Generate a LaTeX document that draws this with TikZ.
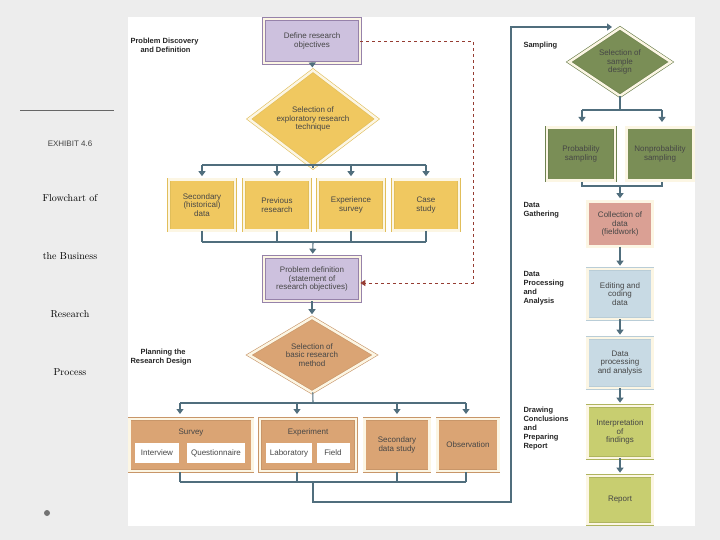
\documentclass[tikz,border=0pt]{standalone}
\usepackage{fontspec}
\newfontfamily\lsans{Liberation Sans}
\usetikzlibrary{shapes.geometric,arrows.meta}
\definecolor{purp}{RGB}{205,193,222}
\definecolor{purpb}{RGB}{150,130,170}
\definecolor{yel}{RGB}{240,200,96}
\definecolor{yelb}{RGB}{225,190,90}
\definecolor{tan}{RGB}{218,164,116}
\definecolor{tanb}{RGB}{200,150,105}
\definecolor{grn}{RGB}{122,142,86}
\definecolor{grnb}{RGB}{110,130,80}
\definecolor{pink}{RGB}{218,160,148}
\definecolor{blu}{RGB}{200,218,228}
\definecolor{blub}{RGB}{185,205,215}
\definecolor{lime}{RGB}{200,206,112}
\definecolor{limeb}{RGB}{175,180,95}
\definecolor{cream}{RGB}{252,246,228}
\definecolor{conncol}{RGB}{80,110,125}
\definecolor{dashred}{RGB}{150,60,50}
\definecolor{txt}{RGB}{70,70,70}
\tikzset{
  box/.style 2 args={draw=#2, double=cream, line width=0.6pt, double distance=2.5pt,
    fill=#1, font=\lsans\fontsize{8}{8.5}\selectfont, text=txt, align=center, inner sep=1pt},
  dia/.style 2 args={diamond, draw=#2, double=cream, line width=0.6pt, double distance=2.5pt,
    fill=#1, font=\lsans\fontsize{8}{8.5}\selectfont, text=txt, align=center, inner sep=0pt},
  sub/.style={fill=white, font=\lsans\fontsize{8}{8.5}\selectfont, text=txt, inner sep=1pt},
  lab/.style={font=\lsans\bfseries\fontsize{7.5}{9}\selectfont, text=black!85, align=left, anchor=north west},
  conn/.style={draw=conncol, line width=1.1pt},
  arr/.style={conn, -{Triangle[width=7pt,length=5pt]}, shorten >=3pt},
}
\begin{document}
\begin{tikzpicture}[x=1pt,y=-1pt]
\useasboundingbox (0,0) rectangle (720,540);
\fill[black!7] (0,0) rectangle (720,540);
\fill[white] (128,17) rectangle (695,526);
% left caption
\draw[black!60, line width=0.6pt] (20,110) -- (114,110);
\node[font=\lsans\fontsize{8}{9}\selectfont, text=black!75] (ex) at (70,144) {EXHIBIT 4.6};
\node[font=\fontsize{10}{12}\selectfont] (c1) at (70,198) {Flowchart of};
\node[font=\fontsize{10}{12}\selectfont] (c2) at (70,256) {the Business};
\node[font=\fontsize{10}{12}\selectfont] (c3) at (70,314) {Research};
\node[font=\fontsize{10}{12}\selectfont] (c4) at (70,372) {Process};
\fill[black!55] (47,513) circle (3);
% stage labels
\node[lab] (l1) at (127,35) {Problem Discovery\\ \hspace*{10pt}and Definition};
\node[lab] (l2) at (127,346) {\hspace*{10pt}Planning the\\Research Design};
\node[lab] (l3) at (520,39) {Sampling};
\node[lab] (l4) at (520,199) {Data\\Gathering};
\node[lab] (l5) at (520,268) {Data\\Processing\\and\\Analysis};
\node[lab] (l6) at (520,404) {Drawing\\Conclusions\\and\\Preparing\\Report};
% problem discovery
\node[box={purp}{purpb}, minimum width=96, minimum height=44] (def) at (312,41) {Define research\\objectives};
\node[dia={yel}{yelb}, minimum width=128, minimum height=62] (exp) at (313,119) {Selection of\\exploratory research\\technique};
\node[box={yel}{yelb}, minimum width=66, minimum height=51] (s1) at (202,205) {Secondary\\(historical)\\data};
\node[box={yel}{yelb}, minimum width=66, minimum height=51] (s2) at (277,205) {Previous\\research};
\node[box={yel}{yelb}, minimum width=66, minimum height=51] (s3) at (351,205) {Experience\\survey};
\node[box={yel}{yelb}, minimum width=66, minimum height=51] (s4) at (426,205) {Case\\study};
\node[box={purp}{purpb}, minimum width=96, minimum height=44] (pd) at (312,279) {Problem definition\\(statement of\\research objectives)};
\coordinate (j1) at (313,165);
\coordinate (j2) at (313,242);
\draw[arr] (def) -- (exp);
\draw[conn] (exp) -- (j1);
\draw[conn] (s1.north |- j1) -- (s4.north |- j1);
\foreach \s in {s1,s2,s3,s4} \draw[arr] (\s.north |- j1) -- (\s);
\foreach \s in {s1,s2,s3,s4} \draw[conn] (\s) -- (\s.south |- j2);
\draw[conn] (s1.south |- j2) -- (s4.south |- j2);
\draw[arr] (j2) -- (pd);
\coordinate (d1) at (473,41);
\coordinate (d2) at (473,283);
\draw[dashred, dashed, line width=0.8pt, -{Triangle[width=6pt,length=5pt]}] (def.east) -- (d1) -- (d2) -- (pd.east |- d2);
% research design
\node[dia={tan}{tanb}, minimum width=126, minimum height=68] (bas) at (312,355) {Selection of\\basic research\\method};
\node[box={tan}{tanb}, minimum width=123, minimum height=52, text depth=28pt, text height=6pt] (sv) at (191,445) {Survey};
\node[box={tan}{tanb}, minimum width=96, minimum height=52, text depth=28pt, text height=6pt] (xp) at (308,445) {Experiment};
\node[box={tan}{tanb}, minimum width=65, minimum height=52] (sd) at (397,445) {Secondary\\data study};
\node[box={tan}{tanb}, minimum width=61, minimum height=52] (ob) at (468,445) {Observation};
\node[sub, minimum width=44, minimum height=20] (iv) at (157,453) {Interview};
\node[sub, minimum width=58, minimum height=20] (qu) at (216,453) {Questionnaire};
\node[sub, minimum width=46, minimum height=20] (lb) at (289,453) {Laboratory};
\node[sub, minimum width=33, minimum height=20] (fd) at (333,453) {Field};
\coordinate (j3) at (313,403);
\coordinate (j4) at (313,482);
\coordinate (r1) at (313,502);
\coordinate (r2) at (511,502);
\coordinate (r3) at (511,27);
\draw[arr] (pd) -- (bas);
\draw[conn] (bas) -- (j3);
\draw[conn] (180,403) -- (466,403);
\foreach \x in {180,297,397,466} \draw[arr] (\x,403) -- (\x,417);
\foreach \x in {180,297,397,466} \draw[conn] (\x,472) -- (\x,482);
\draw[conn] (180,482) -- (466,482);
% sampling
\node[dia={grn}{grnb}, minimum width=102, minimum height=68] (sam) at (620,62) {Selection of\\sample\\design};
\draw[conn, -{Triangle[width=7pt,length=5pt]}] (j4) -- (r1) -- (r2) -- (r3) -- (612,27);
\node[box={grn}{grnb}, minimum width=68, minimum height=53] (pr) at (581,154) {Probability\\sampling};
\node[box={grn}{grnb}, minimum width=67, minimum height=53] (np) at (660,154) {Nonprobability\\sampling};
\coordinate (j5) at (620,110);
\coordinate (j6) at (620,186);
\draw[conn] (sam) -- (j5);
\draw[conn] (582,110) -- (662,110);
\draw[arr] (582,110) -- (582,125);
\draw[arr] (662,110) -- (662,125);
\draw[conn] (582,182) -- (582,186) -- (662,186) -- (662,182);
\node[box={pink}{pink!80!black}, minimum width=65, minimum height=45] (col) at (620,224) {Collection of\\data\\(fieldwork)};
\node[box={blu}{blub}, minimum width=65, minimum height=50] (ed) at (620,294) {Editing and\\coding\\data};
\node[box={blu}{blub}, minimum width=65, minimum height=50] (dp) at (620,363) {Data\\processing\\and analysis};
\node[box={lime}{limeb}, minimum width=65, minimum height=52] (in) at (620,432) {Interpretation\\of\\findings};
\node[box={lime}{limeb}, minimum width=65, minimum height=48] (rp) at (620,500) {Report};
\draw[arr] (j6) -- (col);
\draw[arr] (col) -- (ed);
\draw[arr] (ed) -- (dp);
\draw[arr] (dp) -- (in);
\draw[arr] (in) -- (rp);
\end{tikzpicture}
\end{document}
